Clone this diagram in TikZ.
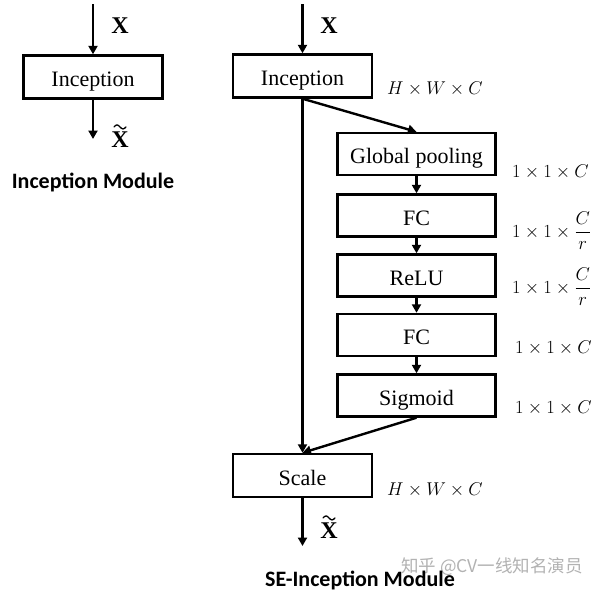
\RequirePackage{fix-cm}
\documentclass[tikz,border=0pt]{standalone}
\usepackage{fontspec}
\setmainfont{Liberation Serif}
\newfontfamily\titlefont{Carlito}
\newfontfamily\cjk{Noto Sans CJK SC}
\usetikzlibrary{arrows.meta}
\begin{document}
\begin{tikzpicture}[x=1pt,y=-1pt,
  box/.style={draw, line width=2.4pt, inner sep=0pt, minimum height=42pt, text height=19.5pt, text depth=0pt, font=\fontsize{22}{24}\selectfont},
  bigbox/.style={box, minimum width=139pt, minimum height=43pt},
  smallbox/.style={box, minimum width=158pt},
  arr/.style={line width=2.4pt, -{Triangle[width=9pt,length=8.5pt]}},
  xlab/.style={font=\bfseries\fontsize{24}{26}\selectfont, inner sep=0pt},
  tilde/.style={line width=1.3pt, line cap=round},
  dimlab/.style={font=\fontsize{18.5}{22}\selectfont, anchor=west, inner sep=0pt},
  title/.style={font=\titlefont\bfseries\fontsize{22}{24}\selectfont},
  ]
\useasboundingbox (0,0) rectangle (600,592);

% left module
\node[bigbox] (linc) at (93,77) {Inception};
\coordinate (lin) at (93,4);
\coordinate (lout) at (93,139);
\draw[arr] (lin) -- (linc.north);
\draw[arr] (linc.south) -- (lout);
\node[xlab] (lx) at (120,26) {X};
\node[xlab] (lxt) at (120,140) {X};
\draw[tilde] ([xshift=-6pt,yshift=5pt]lxt.north) sin ++(3,-2) cos ++(3,2) sin ++(3,2) cos ++(3,-2);
\node[title] (lt) at (93,182) {Inception Module};

% right module
\node[bigbox] (rinc) at (302.5,76) {Inception};
\node[smallbox] (gp) at (416.5,154) {Global pooling};
\node[smallbox] (fc1) at (416.5,215.5) {FC};
\node[smallbox] (relu) at (416.5,275.5) {ReLU};
\node[smallbox] (fc2) at (416.5,335) {FC};
\node[smallbox] (sig) at (416.5,395.5) {Sigmoid};
\node[bigbox] (scale) at (302.5,475.5) {Scale};
\coordinate (rin) at (302.5,4);
\coordinate (rout) at (302.5,546);

\draw[arr] (rin) -- (rinc.north);
\draw[arr] (rinc.south) -- (gp.north);
\draw[arr] (rinc.south) -- (scale.north);
\draw[arr] (gp.south) -- (fc1.north);
\draw[arr] (fc1.south) -- (relu.north);
\draw[arr] (relu.south) -- (fc2.north);
\draw[arr] (fc2.south) -- (sig.north);
\draw[arr] (sig.south) -- (scale.north);
\draw[arr] (scale.south) -- (rout);

\node[xlab] (rx) at (329,26) {X};
\node[xlab] (rxt) at (329,531) {X};
\draw[tilde] ([xshift=-6pt,yshift=5pt]rxt.north) sin ++(3,-2) cos ++(3,2) sin ++(3,2) cos ++(3,-2);

\node[dimlab] (d1) at (387,89) {$H\times W\times C$};
\node[dimlab] (d2) at (512,172) {$1\times 1\times C$};
\node[dimlab] (d3) at (512,231) {$1\times 1\times {\displaystyle\frac{C}{r}}$};
\node[dimlab] (d4) at (512,287) {$1\times 1\times {\displaystyle\frac{C}{r}}$};
\node[dimlab] (d5) at (515,348) {$1\times 1\times C$};
\node[dimlab] (d6) at (515,408) {$1\times 1\times C$};
\node[dimlab] (d7) at (387,490) {$H\times W\times C$};

\node[text=black!30, font=\cjk\fontsize{17.5}{20}\selectfont] (wm) at (492,567) {知乎 @CV一线知名演员};
\node[title] (rt) at (360,580) {SE-Inception Module};
\end{tikzpicture}
\end{document}
